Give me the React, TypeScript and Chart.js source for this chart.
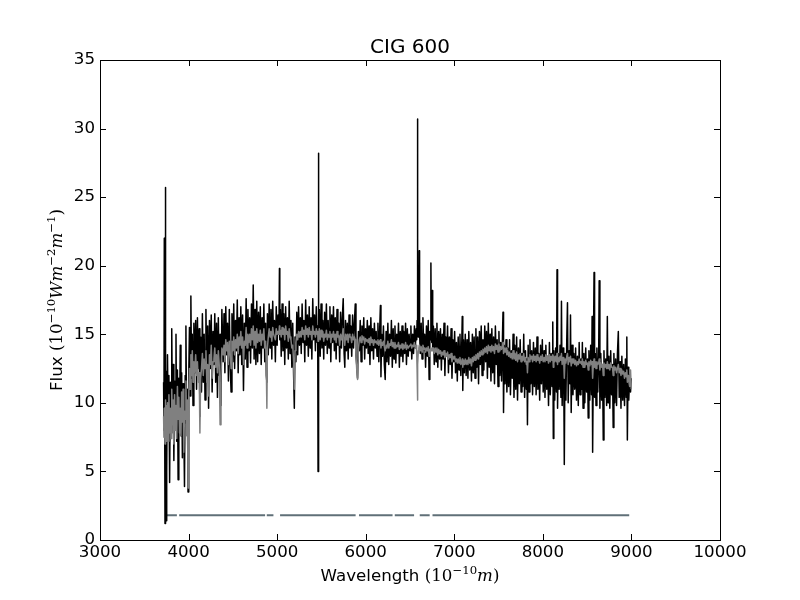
import React, { useEffect, useRef } from "react";
import { Chart, registerables } from "chart.js";

Chart.register(...registerables);

// observed spectrum (black) and fitted model (grey), sampled on the same grid
const wavelength = [
  3718, 3722, 3726, 3730, 3734, 3738, 3742, 3746, 3750, 3756,
  3762, 3770, 3778, 3786, 3794, 3802, 3810, 3818, 3826, 3834,
  3842, 3850, 3858, 3866, 3874, 3882, 3890, 3898, 3906, 3914,
  3922, 3930, 3938, 3946, 3954, 3962, 3970, 3978, 3986, 3994,
  4002, 4010, 4018, 4026, 4034, 4042, 4050, 4060, 4070, 4080,
  4090, 4100, 4110, 4120, 4128, 4136, 4146, 4156, 4166, 4176,
  4186, 4196, 4206, 4216, 4226, 4236, 4246, 4256, 4266, 4276,
  4286, 4296, 4306, 4316, 4326, 4336, 4346, 4356, 4366, 4376,
  4390, 4400, 4410, 4420, 4430, 4440, 4450, 4460, 4470, 4480,
  4490, 4500, 4510, 4520, 4530, 4540, 4550, 4560, 4570, 4580,
  4590, 4600, 4610, 4620, 4630, 4640, 4650, 4660, 4670, 4680,
  4690, 4700, 4710, 4720, 4730, 4740, 4750, 4760, 4770, 4780,
  4790, 4800, 4810, 4820, 4830, 4840, 4850, 4860, 4870, 4878,
  4884, 4890, 4900, 4910, 4920, 4930, 4940, 4950, 4960, 4970,
  4980, 4990, 5000, 5010, 5020, 5026, 5030, 5036, 5046, 5056,
  5066, 5076, 5086, 5096, 5106, 5116, 5126, 5136, 5146, 5156,
  5166, 5176, 5186, 5194, 5202, 5212, 5222, 5232, 5242, 5252,
  5262, 5272, 5282, 5292, 5302, 5312, 5322, 5332, 5342, 5352,
  5362, 5372, 5382, 5392, 5402, 5412, 5422, 5432, 5442, 5452,
  5458, 5462, 5466, 5470, 5476, 5486, 5496, 5506, 5516, 5526,
  5536, 5546, 5556, 5566, 5576, 5586, 5596, 5606, 5616, 5626,
  5636, 5646, 5656, 5666, 5676, 5686, 5696, 5706, 5716, 5726,
  5736, 5746, 5756, 5764, 5772, 5782, 5792, 5802, 5812, 5822,
  5832, 5842, 5852, 5862, 5872, 5882, 5890, 5898, 5908, 5918,
  5928, 5938, 5948, 5958, 5968, 5978, 5988, 5998, 6008, 6018,
  6028, 6038, 6048, 6058, 6068, 6078, 6088, 6098, 6108, 6118,
  6128, 6138, 6148, 6158, 6166, 6172, 6180, 6190, 6200, 6210,
  6220, 6230, 6240, 6250, 6260, 6270, 6280, 6290, 6300, 6310,
  6320, 6330, 6340, 6350, 6360, 6370, 6380, 6390, 6400, 6410,
  6420, 6430, 6440, 6450, 6460, 6470, 6480, 6490, 6500, 6510,
  6520, 6530, 6540, 6550, 6560, 6570, 6576, 6580, 6584, 6588,
  6594, 6600, 6604, 6608, 6616, 6626, 6636, 6646, 6656, 6666,
  6676, 6686, 6696, 6706, 6716, 6724, 6732, 6736, 6740, 6746,
  6751, 6756, 6764, 6774, 6784, 6794, 6804, 6814, 6824, 6834,
  6844, 6854, 6864, 6874, 6884, 6894, 6904, 6914, 6924, 6934,
  6944, 6954, 6964, 6974, 6984, 6994, 7004, 7014, 7024, 7034,
  7044, 7054, 7064, 7074, 7084, 7090, 7096, 7104, 7114, 7124,
  7134, 7144, 7154, 7164, 7174, 7184, 7194, 7204, 7214, 7224,
  7234, 7244, 7254, 7264, 7274, 7284, 7294, 7304, 7314, 7324,
  7334, 7344, 7354, 7364, 7374, 7384, 7394, 7404, 7414, 7424,
  7434, 7444, 7454, 7464, 7474, 7484, 7494, 7504, 7514, 7524,
  7534, 7544, 7550, 7556, 7564, 7574, 7584, 7594, 7604, 7614,
  7624, 7634, 7644, 7654, 7664, 7674, 7684, 7694, 7704, 7714,
  7724, 7734, 7744, 7754, 7764, 7774, 7784, 7794, 7804, 7814,
  7820, 7826, 7834, 7844, 7854, 7864, 7874, 7884, 7894, 7904,
  7914, 7924, 7934, 7944, 7954, 7964, 7974, 7984, 7994, 8004,
  8014, 8024, 8034, 8044, 8054, 8064, 8074, 8084, 8094, 8104,
  8112, 8118, 8124, 8134, 8144, 8154, 8160, 8166, 8174, 8184,
  8194, 8204, 8210, 8218, 8228, 8236, 8242, 8250, 8260, 8270,
  8278, 8286, 8296, 8306, 8312, 8320, 8330, 8340, 8350, 8360,
  8370, 8380, 8390, 8400, 8410, 8420, 8430, 8440, 8446, 8454,
  8464, 8474, 8484, 8494, 8504, 8512, 8520, 8530, 8540, 8550,
  8556, 8562, 8570, 8578, 8584, 8592, 8600, 8610, 8620, 8630,
  8636, 8644, 8654, 8664, 8674, 8682, 8690, 8700, 8710, 8720,
  8728, 8736, 8746, 8756, 8766, 8776, 8786, 8794, 8802, 8812,
  8822, 8832, 8842, 8852, 8862, 8872, 8882, 8892, 8902, 8912,
  8922, 8932, 8942, 8948, 8954, 8962, 8970, 8980, 8990, 8998,
];

const observedFlux = [
  11.5, 8.0, 22.0, 9.5, 1.2, 25.7, 6.0, 1.4, 12.3, 5.0,
  13.5, 8.2, 12.0, 4.2, 11.5, 7.8, 15.4, 9.0, 12.8, 5.8,
  11.6, 8.4, 15.0, 7.2, 12.4, 4.4, 11.8, 8.6, 14.2, 7.6,
  12.2, 6.0, 11.4, 8.2, 3.9, 12.0, 15.6, 8.5, 11.0, 3.5,
  12.0, 15.5, 10.5, 17.8, 11.8, 15.0, 9.8, 15.8, 12.2, 16.0,
  11.0, 16.2, 12.5, 15.4, 9.0, 14.8, 10.8, 16.5, 11.5, 15.0,
  10.2, 16.8, 12.0, 15.6, 9.6, 16.0, 12.5, 16.4, 10.8, 15.2,
  12.8, 16.5, 11.5, 15.8, 10.4, 16.2, 12.0, 15.0, 9.8, 16.8,
  13.0, 16.5, 12.2, 17.0, 13.5, 15.8, 11.6, 16.8, 12.8, 10.8,
  16.5, 13.0, 17.2, 12.5, 16.0, 13.8, 17.5, 12.2, 16.2, 13.5,
  17.0, 12.8, 16.4, 10.9, 15.8, 13.2, 17.6, 12.6, 16.8, 13.8,
  16.2, 12.9, 17.2, 14.0, 18.6, 13.2, 16.8, 12.8, 17.4, 13.0,
  16.6, 13.6, 17.0, 12.8, 16.2, 14.0, 17.2, 13.0, 15.8, 12.0,
  11.5, 16.5, 13.5, 17.2, 14.0, 16.8, 13.2, 17.4, 14.2, 16.0,
  13.0, 17.0, 14.2, 16.4, 15.0, 19.8, 14.6, 16.8, 13.4, 17.2,
  13.8, 16.5, 12.8, 17.0, 14.0, 16.2, 13.2, 17.4, 13.6, 16.0,
  12.6, 15.8, 12.0, 9.6, 14.8, 13.0, 16.6, 13.5, 17.0, 14.2,
  16.2, 13.6, 17.2, 14.4, 16.0, 13.0, 17.5, 14.2, 16.4, 13.4,
  17.0, 14.0, 16.2, 13.2, 17.6, 14.6, 16.4, 13.8, 17.0, 14.4,
  15.6, 5.0, 28.2, 14.0, 16.8, 13.4, 17.2, 14.0, 16.0, 13.2,
  16.6, 14.2, 17.2, 13.6, 16.0, 14.0, 17.0, 13.0, 16.4, 14.4,
  17.0, 13.8, 16.2, 13.2, 16.8, 14.2, 15.8, 13.0, 16.6, 14.0,
  16.2, 17.6, 13.6, 12.6, 16.0, 13.8, 15.8, 13.2, 16.4, 14.0,
  15.6, 13.4, 16.4, 14.0, 15.8, 17.2, 13.5, 12.8, 11.8, 15.2,
  13.8, 16.0, 13.0, 15.6, 14.2, 16.2, 13.2, 15.4, 14.0, 16.0,
  13.6, 15.6, 12.8, 16.2, 13.8, 15.4, 13.2, 15.8, 14.0, 15.2,
  13.4, 15.8, 13.0, 15.4, 17.1, 11.9, 15.0, 13.4, 15.6, 12.8,
  11.7, 15.2, 13.0, 15.8, 12.8, 15.0, 13.4, 16.0, 12.6, 15.4,
  13.2, 15.6, 12.9, 15.0, 13.6, 15.8, 12.6, 15.2, 13.4, 15.6,
  13.0, 15.2, 13.6, 15.8, 12.8, 15.4, 13.4, 15.0, 13.8, 15.6,
  13.2, 15.0, 13.6, 15.6, 14.0, 15.4, 14.6, 16.0, 30.7, 15.0,
  14.8, 16.0, 21.1, 15.2, 13.6, 15.8, 13.2, 16.2, 13.8, 15.0,
  12.6, 15.6, 13.4, 16.0, 11.7, 15.2, 14.6, 20.2, 15.0, 14.4,
  18.2, 14.0, 15.6, 12.8, 15.4, 13.0, 15.8, 12.6, 15.2, 13.2,
  15.4, 12.4, 15.0, 13.2, 15.8, 12.0, 14.8, 13.4, 15.6, 12.2,
  14.8, 12.8, 15.4, 11.8, 14.6, 13.0, 15.2, 12.2, 14.4, 11.6,
  14.8, 12.4, 15.0, 12.0, 14.2, 16.3, 10.9, 14.6, 12.2, 15.0,
  12.0, 14.6, 11.8, 15.2, 12.4, 14.4, 11.6, 15.0, 12.2, 14.8,
  11.8, 15.4, 12.6, 14.8, 11.4, 15.2, 12.8, 15.6, 12.0, 14.6,
  12.4, 15.6, 13.0, 15.2, 11.8, 15.8, 12.6, 15.0, 11.6, 15.4,
  12.2, 14.8, 11.4, 15.6, 12.8, 14.6, 11.2, 15.2, 12.0, 14.4,
  11.6, 14.8, 16.6, 9.3, 14.2, 11.4, 14.6, 10.8, 14.0, 11.2,
  14.6, 10.6, 13.8, 11.8, 15.0, 10.4, 14.2, 11.0, 14.8, 10.2,
  14.0, 11.4, 14.6, 10.8, 13.6, 11.2, 15.0, 10.4, 13.8, 11.0,
  13.2, 8.4, 14.2, 10.8, 14.6, 11.4, 13.8, 10.6, 14.4, 11.2,
  14.0, 10.6, 14.8, 11.0, 13.6, 10.2, 14.2, 11.4, 14.6, 10.8,
  13.8, 10.4, 14.2, 11.0, 13.4, 9.8, 14.4, 10.6, 13.6, 11.2,
  15.9, 7.4, 13.8, 10.2, 14.0, 10.8, 19.7, 9.6, 13.6, 11.0,
  14.2, 10.4, 17.4, 9.8, 14.0, 12.0, 5.5, 13.6, 10.2, 14.6,
  17.3, 10.0, 13.8, 11.4, 16.4, 9.3, 14.2, 10.6, 13.6, 11.0,
  14.0, 10.2, 13.4, 9.8, 14.4, 10.6, 13.2, 11.0, 14.4, 9.6,
  13.6, 10.0, 14.0, 10.8, 13.2, 8.9, 13.8, 10.2, 14.2, 10.6,
  16.3, 6.4, 13.0, 19.5, 10.4, 13.6, 9.8, 14.0, 10.8, 13.4,
  18.9, 9.6, 13.6, 10.2, 12.8, 7.3, 13.8, 10.4, 13.2, 9.8,
  16.3, 10.0, 13.4, 9.6, 13.8, 10.6, 12.8, 8.2, 13.6, 10.0,
  13.2, 9.8, 13.6, 15.2, 10.4, 13.0, 9.6, 13.4, 10.2, 12.8,
  9.8, 13.2, 10.4, 14.8, 7.3, 12.6, 10.2, 12.0, 10.8, 11.8,
];

const modelFlux = [
  9.0, 7.5, 9.6, 8.0, 7.0, 10.2, 8.4, 7.2, 9.8, 7.6,
  10.0, 7.2, 10.6, 7.8, 9.6, 7.4, 11.0, 8.4, 10.2, 7.0,
  10.6, 8.0, 9.8, 7.4, 11.2, 8.8, 10.4, 7.8, 9.6, 7.6,
  10.8, 8.6, 11.0, 6.4, 9.4, 8.8, 11.6, 7.6, 10.2, 3.8,
  10.5, 12.5, 11.0, 13.5, 12.0, 13.8, 11.5, 13.0, 12.2, 13.5,
  12.0, 13.0, 11.5, 12.2, 7.8, 11.8, 12.5, 13.6, 12.0, 13.2,
  12.5, 13.8, 11.5, 12.8, 10.5, 13.5, 12.8, 14.2, 11.8, 13.0,
  13.2, 14.0, 12.6, 13.5, 12.2, 13.8, 12.8, 8.4, 12.0, 14.0,
  13.5, 14.2, 13.0, 14.6, 13.8, 14.4, 12.8, 14.5, 13.6, 12.5,
  14.5, 13.8, 14.8, 13.5, 14.6, 14.0, 15.0, 13.6, 14.8, 14.2,
  15.2, 14.0, 14.8, 12.8, 14.5, 14.2, 15.5, 14.0, 15.0, 14.4,
  15.0, 14.2, 15.4, 14.6, 15.6, 14.2, 15.2, 14.0, 15.4, 14.4,
  15.0, 14.5, 15.3, 14.2, 15.0, 14.6, 15.4, 14.0, 14.5, 12.5,
  9.6, 14.0, 14.8, 15.4, 14.8, 15.2, 14.5, 15.5, 15.0, 14.8,
  14.6, 15.4, 15.0, 15.2, 15.0, 15.6, 15.0, 15.3, 14.8, 15.5,
  15.0, 15.4, 14.6, 15.6, 15.0, 15.2, 14.5, 15.4, 14.8, 14.6,
  14.0, 14.2, 13.0, 11.0, 13.8, 14.4, 15.0, 14.6, 15.2, 14.8,
  15.2, 14.8, 15.5, 15.0, 15.3, 14.6, 15.6, 15.0, 15.4, 14.8,
  15.5, 15.0, 15.2, 14.6, 15.6, 15.0, 15.2, 14.8, 15.4, 15.0,
  15.2, 14.5, 15.0, 14.8, 15.4, 14.6, 15.3, 14.8, 15.2, 14.5,
  15.0, 14.8, 15.3, 14.6, 15.0, 14.8, 15.2, 14.4, 15.0, 14.8,
  15.2, 14.6, 15.0, 14.4, 15.2, 14.8, 14.9, 14.2, 15.0, 14.6,
  15.0, 15.4, 14.5, 14.2, 15.0, 14.6, 15.0, 14.4, 15.0, 14.8,
  14.8, 14.4, 15.0, 14.6, 14.8, 14.6, 13.5, 12.5, 11.7, 14.0,
  14.6, 14.8, 14.4, 14.9, 14.6, 14.8, 14.3, 14.7, 14.5, 14.6,
  14.4, 14.7, 14.2, 14.8, 14.4, 14.6, 14.2, 14.6, 14.4, 14.5,
  14.3, 14.6, 14.2, 14.5, 14.6, 14.0, 14.4, 14.2, 14.5, 14.1,
  13.8, 14.2, 14.0, 14.5, 14.0, 14.3, 14.2, 14.6, 14.1, 14.4,
  14.0, 14.4, 14.0, 14.2, 14.1, 14.4, 13.9, 14.2, 14.0, 14.3,
  13.9, 14.2, 14.0, 14.4, 13.9, 14.2, 14.0, 14.1, 14.2, 14.3,
  14.0, 14.2, 14.1, 14.4, 14.0, 14.2, 13.5, 12.5, 10.2, 12.8,
  13.8, 14.0, 14.2, 13.9, 13.8, 14.1, 13.7, 14.2, 13.9, 14.0,
  13.7, 14.0, 13.8, 14.1, 13.4, 13.9, 13.8, 14.0, 13.8, 13.9,
  14.0, 13.8, 14.0, 13.6, 14.0, 13.7, 14.0, 13.5, 13.9, 13.6,
  13.8, 13.4, 13.7, 13.5, 13.8, 13.3, 13.6, 13.4, 13.7, 13.2,
  13.5, 13.3, 13.6, 13.0, 13.4, 13.2, 13.4, 13.0, 13.2, 12.9,
  13.2, 12.9, 13.3, 12.8, 13.0, 13.2, 12.6, 13.1, 12.8, 13.2,
  12.8, 13.1, 12.8, 13.3, 12.9, 13.2, 12.7, 13.3, 13.0, 13.4,
  13.1, 13.5, 13.2, 13.6, 13.2, 13.7, 13.4, 13.8, 13.5, 13.9,
  13.6, 14.0, 13.7, 14.1, 13.6, 14.2, 13.8, 14.1, 13.7, 14.2,
  13.8, 14.1, 13.6, 14.3, 13.9, 14.2, 13.7, 14.3, 13.8, 14.1,
  13.9, 14.2, 14.4, 13.6, 14.0, 13.7, 14.0, 13.5, 13.8, 13.4,
  13.7, 13.3, 13.6, 13.2, 13.8, 13.2, 13.6, 13.1, 13.7, 13.0,
  13.5, 13.2, 13.6, 13.0, 13.4, 13.1, 13.6, 13.0, 13.3, 12.8,
  13.0, 12.2, 13.3, 13.0, 13.5, 13.2, 13.4, 13.0, 13.5, 13.1,
  13.4, 13.0, 13.5, 13.1, 13.3, 12.9, 13.4, 13.1, 13.5, 13.0,
  13.3, 13.0, 13.5, 13.1, 13.4, 12.9, 13.5, 13.0, 13.4, 13.1,
  13.5, 12.6, 13.4, 13.0, 13.4, 13.0, 13.6, 12.8, 13.3, 13.0,
  13.4, 13.1, 13.6, 12.8, 13.3, 13.0, 11.8, 13.2, 12.9, 13.4,
  13.6, 12.8, 13.3, 13.0, 13.4, 12.7, 13.2, 12.9, 13.2, 12.8,
  13.1, 12.7, 13.0, 12.8, 13.2, 12.9, 13.0, 12.8, 13.2, 12.6,
  13.0, 12.6, 13.1, 12.8, 12.9, 12.4, 13.0, 12.7, 13.1, 12.8,
  13.0, 11.8, 12.8, 13.2, 12.6, 13.0, 12.5, 13.0, 12.8, 12.9,
  13.2, 12.4, 12.9, 12.6, 12.8, 12.0, 12.9, 12.6, 12.8, 12.5,
  13.0, 12.5, 12.8, 12.4, 12.9, 12.6, 12.6, 12.0, 12.7, 12.4,
  12.6, 12.2, 12.5, 12.8, 12.2, 12.5, 12.0, 12.4, 12.1, 12.3,
  11.8, 12.2, 11.9, 12.4, 11.5, 12.0, 11.6, 11.2, 12.4, 11.0,
];

// masked-pixel line drawn near the bottom of the axes
const maskStart = [3744, 3894, 4883, 5033, 5924, 6328, 6610, 6754];
const maskEnd = [3868, 4864, 4958, 5886, 6303, 6546, 6722, 8975];
const maskLevel = 1.8;

const xTicks = { min: 3000, max: 10000, step: 1000 };
const yTicks = { min: 0, max: 35, step: 5 };

const BASE = 16.67;
const SUP = 11.7;
const RISE = 7;
const sans = `${BASE}px "DejaVu Sans"`;
const serif = `${BASE}px "DejaVu Serif"`;
const serifIt = `italic ${BASE}px "DejaVu Serif"`;
const supFont = `${SUP}px "DejaVu Serif"`;

type Run = { t: string; f: string; rise?: number };

const drawRuns = (ctx: CanvasRenderingContext2D, runs: Run[], cx: number, y: number) => {
  let total = 0;
  runs.forEach((r) => {
    ctx.font = r.f;
    total += ctx.measureText(r.t).width;
  });
  let x = cx - total / 2;
  ctx.textAlign = "left";
  ctx.textBaseline = "alphabetic";
  runs.forEach((r) => {
    ctx.font = r.f;
    ctx.fillText(r.t, x, y - (r.rise || 0));
    x += ctx.measureText(r.t).width;
  });
};

const frame = {
  id: "frame",
  afterDraw(chart: any) {
    const { ctx, chartArea, scales } = chart;
    const { left, right, top, bottom } = chartArea;
    ctx.save();
    ctx.strokeStyle = "#000";
    ctx.lineWidth = 1;
    ctx.beginPath();
    scales.x.ticks.forEach((t: any) => {
      const px = Math.round(scales.x.getPixelForValue(t.value)) + 0.5;
      ctx.moveTo(px, bottom);
      ctx.lineTo(px, bottom - 6);
      ctx.moveTo(px, top);
      ctx.lineTo(px, top + 6);
    });
    scales.y.ticks.forEach((t: any) => {
      const py = Math.round(scales.y.getPixelForValue(t.value)) + 0.5;
      ctx.moveTo(left, py);
      ctx.lineTo(left + 6, py);
      ctx.moveTo(right, py);
      ctx.lineTo(right - 6, py);
    });
    ctx.stroke();
    ctx.strokeRect(Math.round(left) + 0.5, Math.round(top) + 0.5, Math.round(right - left), Math.round(bottom - top));

    ctx.fillStyle = "#000";
    ctx.font = `20px "DejaVu Sans"`;
    ctx.textAlign = "center";
    ctx.textBaseline = "alphabetic";
    ctx.fillText("CIG 600", (left + right) / 2, 53);

    drawRuns(
      ctx,
      [
        { t: "Wavelength ", f: sans },
        { t: "(10", f: serif },
        { t: "\u221210", f: supFont, rise: RISE },
        { t: "m", f: serifIt },
        { t: ")", f: serif },
      ],
      (left + right) / 2,
      581
    );

    ctx.translate(62, (top + bottom) / 2);
    ctx.rotate(-Math.PI / 2);
    drawRuns(
      ctx,
      [
        { t: "Flux ", f: sans },
        { t: "(10", f: serif },
        { t: "\u221210", f: supFont, rise: RISE },
        { t: "Wm", f: serifIt },
        { t: "\u22122", f: supFont, rise: RISE },
        { t: "m", f: serifIt },
        { t: "\u22121", f: supFont, rise: RISE },
        { t: ")", f: serif },
      ],
      0,
      0
    );
    ctx.restore();
  },
};

const App = () => {
  const canvasEl = useRef<HTMLCanvasElement>(null);

  useEffect(() => {
    const ctx = canvasEl.current!.getContext("2d")!;

    const observed = wavelength.map((w, i) => ({ x: w, y: observedFlux[i] }));
    const model = wavelength.map((w, i) => ({ x: w, y: modelFlux[i] }));
    const mask: { x: number; y: number | null }[] = [];
    maskStart.forEach((s, i) => {
      mask.push({ x: s, y: maskLevel }, { x: maskEnd[i], y: maskLevel }, { x: maskEnd[i], y: null });
    });

    const tickFont = { family: "DejaVu Sans", size: BASE };

    const chart = new Chart(ctx, {
      type: "line",
      data: {
        datasets: [
          {
            label: "model",
            data: model,
            borderColor: "#808080",
            borderWidth: 1.5,
            borderJoinStyle: "round",
            pointRadius: 0,
            tension: 0,
            order: 0,
          },
          {
            label: "observed",
            data: observed,
            borderColor: "#000000",
            borderWidth: 1.5,
            borderJoinStyle: "round",
            pointRadius: 0,
            tension: 0,
            order: 1,
          },
          {
            label: "mask",
            data: mask,
            borderColor: "#607078",
            borderWidth: 2,
            pointRadius: 0,
            spanGaps: false,
            order: 2,
          },
        ],
      },
      options: {
        responsive: false,
        animation: false,
        events: [],
        layout: { padding: { top: 60, right: 80, left: 0, bottom: 0 } },
        plugins: { legend: { display: false }, title: { display: false }, tooltip: { enabled: false } },
        scales: {
          x: {
            type: "linear",
            min: xTicks.min,
            max: xTicks.max,
            grid: { display: false, drawTicks: false },
            border: { display: false },
            ticks: {
              stepSize: xTicks.step,
              padding: 3,
              color: "#000",
              font: tickFont,
              maxRotation: 0,
              autoSkip: false,
              callback: (v: any) => String(v),
            },
            afterFit: (scale: any) => {
              scale.height = 60;
            },
          },
          y: {
            min: yTicks.min,
            max: yTicks.max,
            grid: { display: false, drawTicks: false },
            border: { display: false },
            ticks: {
              stepSize: yTicks.step,
              padding: 5,
              color: "#000",
              font: tickFont,
              callback: (v: any) => String(v),
            },
            afterFit: (scale: any) => {
              scale.width = 100;
            },
          },
        },
      },
      plugins: [frame],
    } as any);

    return () => {
      chart.destroy();
    };
  }, []);

  return (
    <div style={{ position: "absolute", left: 0, top: 0, width: 800, height: 600, background: "#fff" }}>
      <canvas ref={canvasEl} width={800} height={600}></canvas>
    </div>
  );
};

export default App;
